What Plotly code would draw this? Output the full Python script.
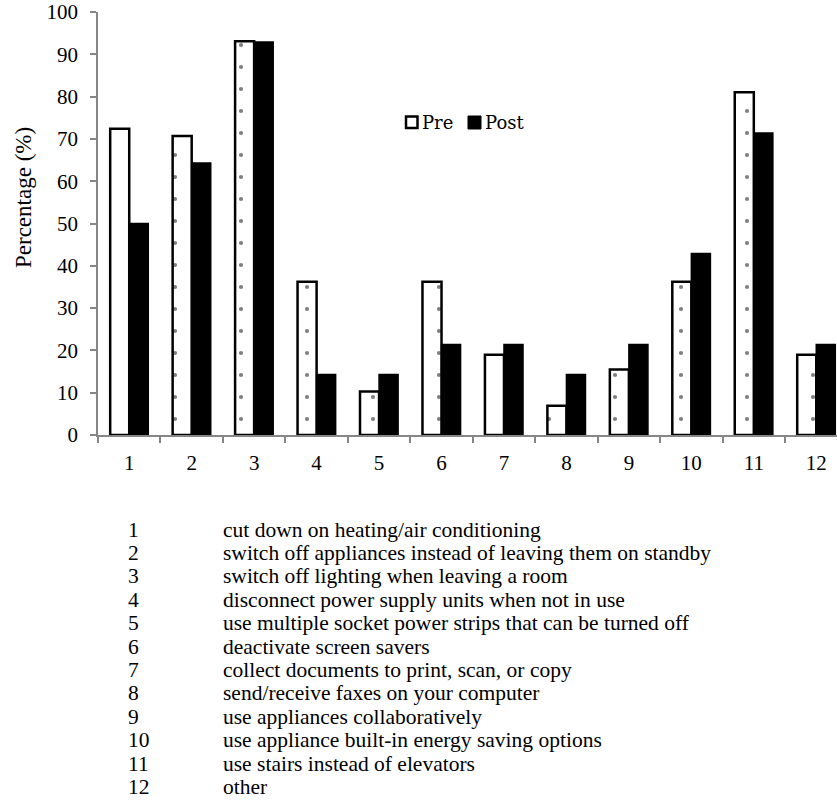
import plotly.graph_objects as go

categories = ["1", "2", "3", "4", "5", "6", "7", "8", "9", "10", "11", "12"]
pre_values = [72.4, 70.7, 93.1, 36.2, 10.3, 36.2, 19.0, 6.9, 15.5, 36.2, 81.0, 19.0]
post_values = [50.0, 64.3, 92.9, 14.3, 14.3, 21.4, 21.4, 14.3, 21.4, 42.9, 71.4, 21.4]
y_ticks = [0, 10, 20, 30, 40, 50, 60, 70, 80, 90, 100]
series_names = ["Pre", "Post"]
descriptions = [
    "cut down on heating/air conditioning",
    "switch off appliances instead of leaving them on standby",
    "switch off lighting when leaving a room",
    "disconnect power supply units when not in use",
    "use multiple socket power strips that can be turned off",
    "deactivate screen savers",
    "collect documents to print, scan, or copy",
    "send/receive faxes on your computer",
    "use appliances collaboratively",
    "use appliance built-in energy saving options",
    "use stairs instead of elevators",
    "other",
]

W, H = 837, 809
L, R, T, B = 98, 0, 12, 809 - 435
plot_w = W - L - R
plot_h = H - T - B


def px_x(px):
    return (px - L) / plot_w


def px_y(py):
    return (H - B - py) / plot_h


fig = go.Figure()
fig.add_trace(go.Bar(
    x=categories, y=pre_values, name=series_names[0], showlegend=False,
    marker=dict(color="white", line=dict(color="black", width=2.5),
                pattern=dict(shape=".", fgcolor="black", bgcolor="white",
                             size=22, solidity=0.028, fillmode="overlay")),
))
fig.add_trace(go.Bar(
    x=categories, y=post_values, name=series_names[1], showlegend=False,
    marker=dict(color="black", line=dict(color="black", width=1.5)),
))

serif = "Liberation Serif, Times New Roman, serif"
FS = 21
LFS = 21.5

annotations = []
row0, row_step = 529.5, 23.4
for i, (c, d) in enumerate(zip(categories, descriptions)):
    py = row0 + i * row_step
    annotations.append(dict(xref="paper", yref="paper", x=px_x(126), y=px_y(py),
                            xanchor="left", yanchor="middle", text=c, showarrow=False,
                            font=dict(family=serif, size=LFS, color="black")))
    annotations.append(dict(xref="paper", yref="paper", x=px_x(221), y=px_y(py),
                            xanchor="left", yanchor="middle", text=d, showarrow=False,
                            font=dict(family=serif, size=LFS, color="black")))

# y-axis title
annotations.append(dict(xref="paper", yref="paper", x=px_x(23), y=px_y(198),
                        xanchor="center", yanchor="middle", text="Percentage (%)",
                        textangle=-90, showarrow=False,
                        font=dict(family=serif, size=23, color="black")))

# legend
legend_font = dict(family="DejaVu Serif, serif", size=18, color="black")
annotations.append(dict(xref="paper", yref="paper", x=px_x(420), y=px_y(122),
                        xanchor="left", yanchor="middle", text=series_names[0],
                        showarrow=False, font=legend_font))
annotations.append(dict(xref="paper", yref="paper", x=px_x(483), y=px_y(122),
                        xanchor="left", yanchor="middle", text=series_names[1],
                        showarrow=False, font=legend_font))
shapes = [
    dict(type="rect", xref="paper", yref="paper",
         x0=px_x(406), x1=px_x(417.5), y0=px_y(128), y1=px_y(116.5),
         fillcolor="white", line=dict(color="black", width=2.5)),
    dict(type="rect", xref="paper", yref="paper",
         x0=px_x(468), x1=px_x(481), y0=px_y(129), y1=px_y(116),
         fillcolor="black", line=dict(color="black", width=1)),
]

fig.update_layout(
    width=W, height=H,
    margin=dict(l=L, r=R, t=T, b=B, pad=0),
    paper_bgcolor="white", plot_bgcolor="white",
    barmode="group", bargap=0.39, bargroupgap=0,
    font=dict(family=serif, size=FS, color="black"),
    showlegend=False,
    annotations=annotations,
    shapes=shapes,
)
fig.update_xaxes(
    type="category", range=[-0.5, 11.332],
    showline=True, linecolor="#868686", linewidth=1.5,
    ticks="outside", tickson="boundaries", ticklen=6, tickcolor="#868686", tickwidth=1.5,
    showgrid=False, zeroline=False, ticklabelstandoff=8,
    tickfont=dict(family=serif, size=FS, color="black"),
)
fig.update_yaxes(
    range=[0, 100], tickvals=y_ticks,
    showline=True, linecolor="#868686", linewidth=1.5,
    ticks="outside", ticklen=6, tickcolor="#868686", tickwidth=1.5,
    showgrid=False, zeroline=False, ticklabelstandoff=8, ticklabeloverflow="allow",
    tickfont=dict(family=serif, size=FS, color="black"),
)

fig.write_html("out.html", config={"displayModeBar": False},
               post_script="document.body.style.margin='0';document.body.style.overflow='hidden';")
